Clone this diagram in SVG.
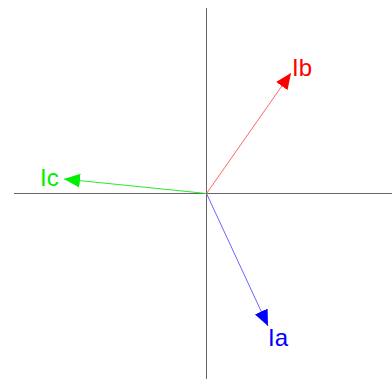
<svg xmlns="http://www.w3.org/2000/svg" width="392" height="379" viewBox="0 0 392 379">
<style>
.axis{stroke:#666;stroke-width:1}
.lbl{font-family:"Liberation Sans",Arial,sans-serif;font-size:24px}
</style>
<defs>
<marker id="ar" viewBox="0 0 16 14" refX="16" refY="7" markerWidth="16" markerHeight="14" markerUnits="userSpaceOnUse" orient="auto"><path d="M0,0L16,7L0,14z" fill="#f00"/></marker>
<marker id="ag" viewBox="0 0 16 14" refX="16" refY="7" markerWidth="16" markerHeight="14" markerUnits="userSpaceOnUse" orient="auto"><path d="M0,0L16,7L0,14z" fill="#0e0"/></marker>
<marker id="ab" viewBox="0 0 16 14" refX="16" refY="7" markerWidth="16" markerHeight="14" markerUnits="userSpaceOnUse" orient="auto"><path d="M0,0L16,7L0,14z" fill="#00f"/></marker>
</defs>
<rect width="392" height="379" fill="#fff"/>
<g id="axes">
<line class="axis" x1="206.5" y1="8" x2="206.5" y2="379"/>
<line class="axis" x1="14" y1="193.5" x2="392" y2="193.5"/>
</g>
<g id="connectors">
<line x1="206.5" y1="193.5" x2="291" y2="73" stroke="#f66" stroke-width="1" marker-end="url(#ar)"/>
<line x1="206.5" y1="193.5" x2="64" y2="179" stroke="#2e2" stroke-width="1" marker-end="url(#ag)"/>
<line x1="206.5" y1="193.5" x2="268" y2="326" stroke="#66f" stroke-width="1" marker-end="url(#ab)"/>
</g>
<g id="Ib"><text class="lbl" x="292" y="76" fill="#f00">Ib</text></g>
<g id="Ic"><text class="lbl" x="40" y="186" fill="#0e0">Ic</text></g>
<g id="Ia"><text class="lbl" x="268" y="346" fill="#00f">Ia</text></g>
</svg>
